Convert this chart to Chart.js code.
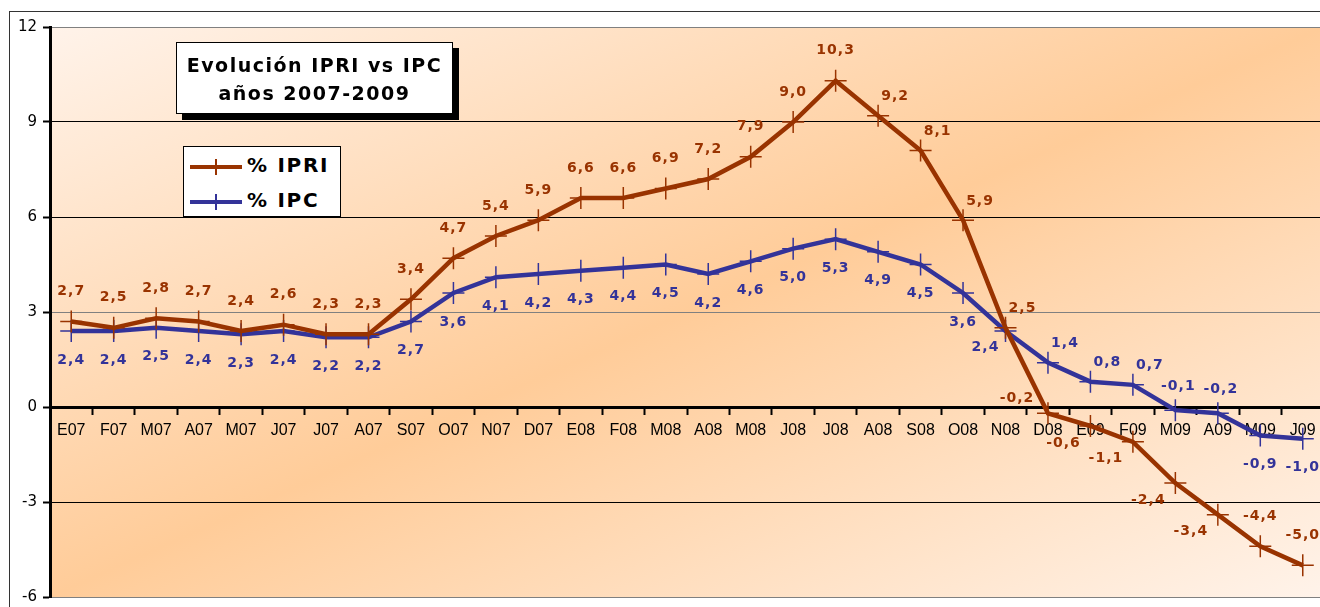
<!DOCTYPE html>
<html>
<head>
<meta charset="utf-8">
<script src="https://cdn.jsdelivr.net/npm/chart.js@4.4.1/dist/chart.umd.min.js"></script>
<style>
body{margin:0;background:#fff;overflow:hidden;}
#wrap{position:relative;width:1324px;height:607px;}
#title{position:absolute;left:176px;top:42px;width:277px;height:72px;box-sizing:border-box;background:#fff;border:1px solid #000;box-shadow:6px 6px 0 #000;font:bold 19px "DejaVu Sans";letter-spacing:1.5px;text-align:center;line-height:28px;padding-top:8px;color:#000;}
#legend{position:absolute;left:183px;top:146px;width:158px;height:71px;box-sizing:border-box;padding-top:1px;background:#fff;border:1px solid #000;font:bold 20px "DejaVu Sans";letter-spacing:1.7px;color:#000;}
#legend .row{height:35px;line-height:35px;white-space:nowrap;}
#legend .sw{display:inline-block;position:relative;width:52px;height:4px;margin:0 5px 0 6px;vertical-align:middle;}
#legend .sw i{position:absolute;left:25px;top:-6px;width:1.5px;height:16px;background:inherit;}
</style>
</head>
<body>
<div id="wrap">
<canvas id="chart"></canvas>
<div id="title"></div>
<div id="legend"></div>
</div>
<script>
const months = ['E07','F07','M07','A07','M07','J07','J07','A07','S07','O07','N07','D07',
  'E08','F08','M08','A08','M08','J08','J08','A08','S08','O08','N08','D08',
  'E09','F09','M09','A09','M09','J09'];
const ipri = [2.7,2.5,2.8,2.7,2.4,2.6,2.3,2.3,3.4,4.7,5.4,5.9,6.6,6.6,6.9,7.2,7.9,9.0,10.3,9.2,8.1,5.9,2.5,-0.2,-0.6,-1.1,-2.4,-3.4,-4.4,-5.0];
const ipc = [2.4,2.4,2.5,2.4,2.3,2.4,2.2,2.2,2.7,3.6,4.1,4.2,4.3,4.4,4.5,4.2,4.6,5.0,5.3,4.9,4.5,3.6,2.4,1.4,0.8,0.7,-0.1,-0.2,-0.9,-1.0];
const yTicks = [-6,-3,0,3,6,9,12];
const titleLines = ['Evolución IPRI vs IPC','años 2007-2009'];

// where each value label sits around its point
const ipriPlace = ['T','T','T','T','T','T','T','T','T','T','T','T','T','T','T','T','T','T','T',
  'TR','TR','TR','TR','TL','BL','BL','BL','BL','T','T'];
const ipcPlace = ['B','B','B','B','B','B','B','B','B','B','B','B','B','B','B','B','B','B','B',
  'B','B','B','L','TR','TR','TR','TS','TS','B','B'];
const offsets = {T:[0,-30],B:[0,29],TR:[17,-19],TL:[-31,-15],BL:[-27,17],L:[-20,16],TS:[3,-24]};

const bgPlugin = {
  id: 'bg',
  beforeDraw(chart) {
    const c = chart.ctx, a = chart.chartArea;
    const w = a.right - a.left, h = a.bottom - a.top;
    const cx = a.left + w / 2, cy = a.top + h / 2;
    const k = w * h / (w * w + h * h);
    const g = c.createLinearGradient(cx - k * h, cy - k * w, cx + k * h, cy + k * w);
    g.addColorStop(0, '#fff3ea');
    g.addColorStop(0.5, '#ffcc99');
    g.addColorStop(1, '#fff3ea');
    c.save();
    c.fillStyle = g;
    c.fillRect(a.left, a.top, w, h);
    c.strokeStyle = '#333';
    c.lineWidth = 1;
    c.strokeRect(9.5, 11.5, 2000, 2000);
    c.restore();
  }
};

const labelPlugin = {
  id: 'vlabels',
  afterDatasetsDraw(chart) {
    const c = chart.ctx;
    c.save();
    c.font = 'bold 14px "DejaVu Sans"';
    c.letterSpacing = '1px';
    c.textAlign = 'center';
    c.textBaseline = 'middle';
    chart.data.datasets.forEach((ds, i) => {
      const meta = chart.getDatasetMeta(i);
      c.fillStyle = ds.borderColor;
      meta.data.forEach((pt, j) => {
        const o = offsets[ds.place[j]];
        c.fillText(ds.data[j].toFixed(1).replace('.', ','), pt.x + o[0], pt.y + o[1]);
      });
    });
    c.restore();
  }
};

const gridColor = v => (v === 12 || v === 3 || v === -6) ? '#808080' : '#000';

const chart = new Chart(document.getElementById('chart'), {
  type: 'line',
  data: {
    labels: months,
    datasets: [
      {label: '% IPRI', data: ipri, place: ipriPlace, borderColor: '#993300', backgroundColor: '#993300',
       borderWidth: 4.5, pointStyle: 'cross', pointRadius: 11, pointBorderWidth: 1.5, tension: 0},
      {label: '% IPC', data: ipc, place: ipcPlace, borderColor: '#333399', backgroundColor: '#333399',
       borderWidth: 4.5, pointStyle: 'cross', pointRadius: 11, pointBorderWidth: 1.5, tension: 0}
    ]
  },
  options: {
    responsive: true,
    maintainAspectRatio: false,
    animation: false,
    layout: {autoPadding: false, padding: {top: 27, bottom: 10, left: 0, right: 0}},
    plugins: {legend: {display: false}, tooltip: {enabled: false}},
    scales: {
      x: {
        position: {y: 0},
        offset: true,
        afterFit(s) { s.height = 0; s.paddingLeft = 0; s.paddingRight = 0; s.paddingTop = 0; s.paddingBottom = 0; },
        grid: {offset: true, drawOnChartArea: false, drawTicks: true, tickLength: 6, tickColor: '#000', tickWidth: 2},
        border: {display: true, color: '#000', width: 3},
        ticks: {color: '#000', font: {family: '"Liberation Sans"', size: 16}, autoSkip: false, maxRotation: 0, padding: 8}
      },
      y: {
        min: -6, max: 12,
        afterFit(s) { s.width = 50; s.paddingTop = 0; s.paddingBottom = 0; s.paddingLeft = 0; s.paddingRight = 0; },
        afterBuildTicks(s) { s.ticks = yTicks.map(v => ({value: v})); },
        grid: {color: ctx => gridColor(ctx.tick.value), lineWidth: 1, tickLength: 7, tickColor: '#000', tickWidth: 2},
        border: {display: true, color: '#000', width: 3},
        ticks: {color: '#000', font: {family: '"DejaVu Sans"', size: 15}, padding: 6}
      }
    }
  },
  plugins: [bgPlugin, labelPlugin]
});

document.getElementById('title').innerHTML = titleLines.join('<br>');
document.getElementById('legend').innerHTML = chart.data.datasets.map(ds =>
  '<div class="row"><span class="sw" style="background:' + ds.borderColor + '"><i></i></span>' + ds.label + '</div>'
).join('');
</script>
</body>
</html>
